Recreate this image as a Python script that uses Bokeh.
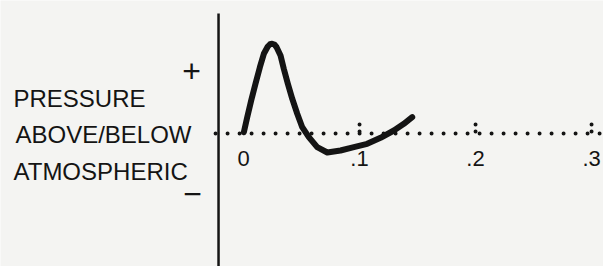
from bokeh.plotting import figure
from bokeh.models import Range1d
from bokeh.core.properties import value
from bokeh.embed import file_html
from bokeh.resources import INLINE

# pressure pulse: time (s) vs pressure (arbitrary units, 0 = atmospheric)
t = [0.0003, 0.0032, 0.0066, 0.0103, 0.0141, 0.0175, 0.0209, 0.0228, 0.0247,
     0.0266, 0.0284, 0.0319, 0.0347, 0.0382, 0.0420, 0.0463, 0.0506, 0.0563,
     0.0635, 0.0722, 0.0836, 0.0951, 0.1066, 0.1181, 0.1296, 0.1382, 0.1454]
pres = [1.3, 16.3, 33, 49.7, 66.3, 79.7, 87, 89.2, 89.7,
        89, 86.5, 78, 64.7, 49.7, 34.7, 19.7, 6.3, -3.7,
        -13.7, -19, -17, -13.7, -10.3, -4.3, 3, 9.7, 16.3]

tick_vals = [0.0, 0.1, 0.2, 0.3]
tick_labels = ["0", ".1", ".2", ".3"]

ylab_text = ["PRESSURE", "ABOVE/BELOW", "ATMOSPHERIC"]
ylab_y = [35, -1, -38]
sign_text = ["+", "\u2212"]
sign_y = [63, -60]

INK = "#141414"
BG = "#f4f4f2"
FONT = value("Liberation Sans")

p = figure(width=603, height=266, x_range=Range1d(-0.2095, 0.3103),
           y_range=Range1d(-133, 133), min_border=0, toolbar_location=None,
           output_backend="svg", x_axis_location=None, y_axis_location=None)
p.grid.visible = False
p.outline_line_color = None
p.background_fill_color = BG
p.border_fill_color = BG

# vertical pressure axis
p.segment(x0=[-0.02155], y0=[120], x1=[-0.02155], y1=[-140],
          line_color=INK, line_width=2.5)

# dotted atmospheric line
p.segment(x0=[-0.0241], y0=[0], x1=[0.3078], y1=[0], line_color=INK,
          line_width=4, line_dash="0 12", line_cap="round")

# dotted tick marks above the line
p.segment(x0=tick_vals[1:], y0=[2] * 3, x1=tick_vals[1:], y1=[14] * 3,
          line_color=INK, line_width=4, line_dash="0 7", line_cap="round")

# pressure curve
p.line(t, pres, line_color=INK, line_width=6, line_join="round",
       line_cap="round")

# tick labels
p.text(x=tick_vals, y=[-25] * 4, text=tick_labels, text_align="center",
       text_baseline="middle", text_font=FONT, text_font_size="22px",
       text_color=INK)

# y labels
p.text(x=[-0.1983, -0.1966, -0.1983], y=ylab_y, text=ylab_text,
       text_align="left", text_baseline="middle", text_font=FONT,
       text_font_size="24px", text_color=INK)
p.text(x=[-0.0448, -0.044], y=sign_y, text=sign_text, text_align="center",
       text_baseline="middle", text_font=FONT, text_font_size="32px",
       text_color=INK)

open("out.html", "w").write(file_html(p, INLINE))
